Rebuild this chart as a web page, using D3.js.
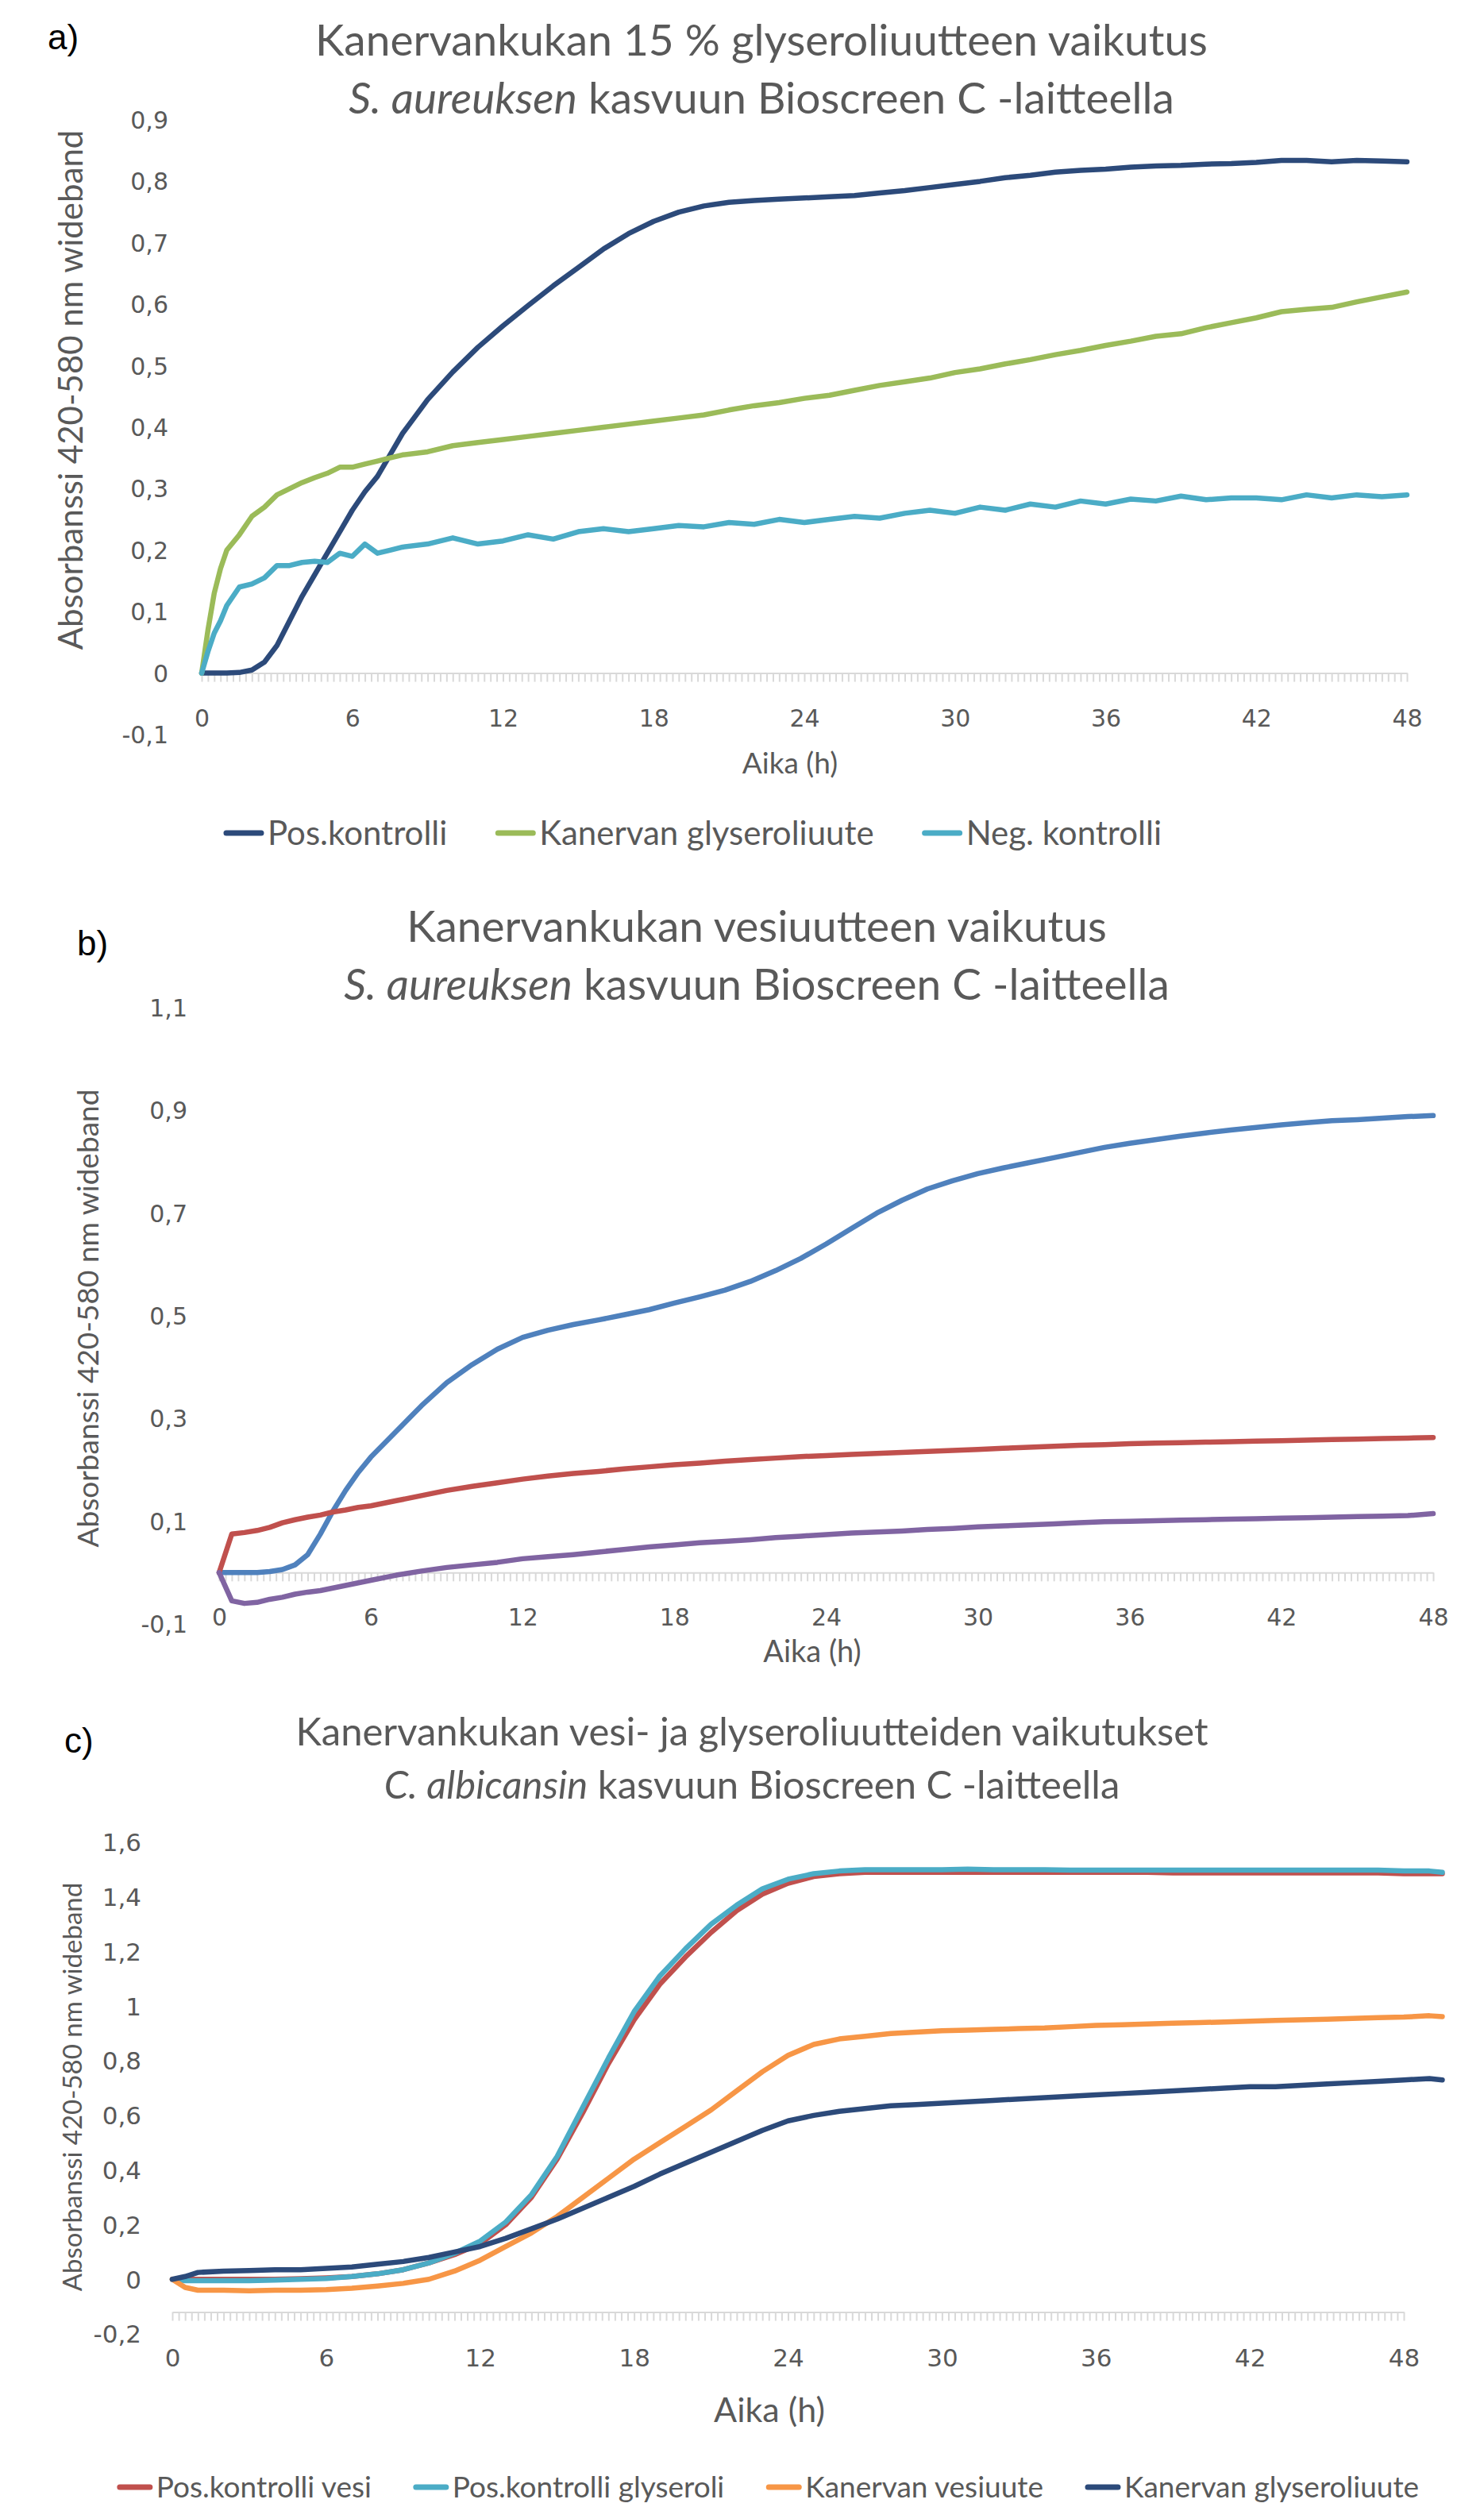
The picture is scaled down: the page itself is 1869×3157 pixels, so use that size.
<!DOCTYPE html>
<html>
<head>
<meta charset="utf-8">
<script src="https://cdn.jsdelivr.net/npm/d3@7"></script>
<style>
  body { margin: 0; background: #fff; }
  svg text { fill: #595959; font-family: Lato, "Open Sans", sans-serif; }
</style>
</head>
<body>
<svg id="chart" width="1869" height="3157"></svg>
<script>
// ---- data ----
const xTicks = [0, 6, 12, 18, 24, 30, 36, 42, 48];

// a) S. aureus, 15 % glycerol extract
const hoursA = [0, 0.25, 0.5, 0.75, 1, 1.5, 2, 2.5, 3, 3.5, 4, 4.5, 5, 5.5, 6, 6.5, 7, 7.5, 8,
  9, 10, 11, 12, 13, 14, 15, 16, 17, 18, 19, 20, 21, 22, 23, 24, 25, 26, 27, 28, 29, 30,
  31, 32, 33, 34, 35, 36, 37, 38, 39, 40, 41, 42, 43, 44, 45, 46, 47, 48];
const posA = [0, 0, 0, 0, 0, 0.001, 0.005, 0.018, 0.045, 0.085, 0.125, 0.16, 0.195, 0.23, 0.265, 0.295, 0.32, 0.355, 0.39,
  0.445, 0.49, 0.53, 0.565, 0.598, 0.63, 0.66, 0.69, 0.715, 0.735, 0.75, 0.76, 0.766, 0.769, 0.771, 0.773, 0.775, 0.777, 0.781, 0.785, 0.79, 0.795,
  0.8, 0.806, 0.81, 0.815, 0.818, 0.82, 0.823, 0.825, 0.826, 0.828, 0.829, 0.831, 0.834, 0.834, 0.832, 0.834, 0.833, 0.832];
const glyA = [0, 0.07, 0.13, 0.17, 0.2, 0.225, 0.255, 0.27, 0.29, 0.3, 0.31, 0.318, 0.325, 0.335, 0.335, 0.34, 0.345, 0.35, 0.355,
  0.36, 0.37, 0.375, 0.38, 0.385, 0.39, 0.395, 0.4, 0.405, 0.41, 0.415, 0.42, 0.428, 0.435, 0.44, 0.447, 0.452, 0.46, 0.468, 0.474, 0.48, 0.489,
  0.495, 0.503, 0.51, 0.518, 0.525, 0.533, 0.54, 0.548, 0.552, 0.562, 0.57, 0.578, 0.588, 0.592, 0.595, 0.604, 0.612, 0.62];
const negA = [0, 0.035, 0.065, 0.085, 0.11, 0.14, 0.145, 0.155, 0.175, 0.175, 0.18, 0.182, 0.18, 0.195, 0.19, 0.21, 0.195, 0.2, 0.205,
  0.21, 0.22, 0.21, 0.215, 0.225, 0.218, 0.23, 0.235, 0.23, 0.235, 0.24, 0.238, 0.245, 0.242, 0.25, 0.245, 0.25, 0.255, 0.252, 0.26, 0.265, 0.26,
  0.27, 0.265, 0.275, 0.27, 0.28, 0.275, 0.283, 0.28, 0.288, 0.282, 0.285, 0.285, 0.282, 0.29, 0.285, 0.29, 0.287, 0.29];

// b) S. aureus, water extract
const hoursB = [0, 0.5, 1, 1.5, 2, 2.5, 3, 3.5, 4, 4.5, 5, 5.5, 6, 7, 8, 9, 10, 11, 12, 13, 14, 15, 16, 17, 18,
  19, 20, 21, 22, 23, 24, 25, 26, 27, 28, 29, 30, 31, 32, 33, 34, 35, 36, 37, 38, 39, 40, 41, 42, 43, 44, 45, 46, 47, 48];
const blueB = [0, 0, 0, 0, 0.002, 0.006, 0.015, 0.035, 0.075, 0.12, 0.16, 0.195, 0.225, 0.275, 0.325, 0.37, 0.405, 0.435, 0.458, 0.472, 0.483, 0.492, 0.502, 0.512, 0.525,
  0.537, 0.55, 0.567, 0.588, 0.612, 0.64, 0.67, 0.7, 0.725, 0.747, 0.763, 0.777, 0.788, 0.798, 0.808, 0.818, 0.828, 0.836, 0.843, 0.85, 0.856, 0.862, 0.867, 0.872, 0.876, 0.88, 0.882, 0.885, 0.888, 0.89];
const redB = [0, 0.075, 0.078, 0.082, 0.088, 0.097, 0.103, 0.108, 0.112, 0.118, 0.122, 0.127, 0.13, 0.14, 0.15, 0.16, 0.168, 0.175, 0.182, 0.188, 0.193, 0.197, 0.202, 0.206, 0.21,
  0.213, 0.217, 0.22, 0.223, 0.226, 0.228, 0.23, 0.232, 0.234, 0.236, 0.238, 0.24, 0.242, 0.244, 0.246, 0.248, 0.249, 0.251, 0.252, 0.253, 0.254, 0.255, 0.256, 0.257, 0.258, 0.259, 0.26, 0.261, 0.262, 0.263];
const purpleB = [0, -0.055, -0.06, -0.058, -0.052, -0.048, -0.042, -0.038, -0.035, -0.03, -0.025, -0.02, -0.015, -0.005, 0.003, 0.01, 0.015, 0.02, 0.027, 0.031, 0.035, 0.04, 0.045, 0.05, 0.054,
  0.058, 0.061, 0.064, 0.068, 0.071, 0.074, 0.077, 0.079, 0.081, 0.084, 0.086, 0.089, 0.091, 0.093, 0.095, 0.097, 0.099, 0.1, 0.101, 0.102, 0.103, 0.104, 0.105, 0.106, 0.107, 0.108, 0.109, 0.11, 0.111, 0.115];

// c) C. albicans, water and glycerol extracts
const hoursC = [0, 0.5, 1, 2, 3, 4, 5, 6, 7, 8, 9, 10, 11, 12, 13, 14, 15, 16, 17, 18, 19, 20, 21, 22, 23, 24, 25,
  26, 27, 28, 29, 30, 31, 32, 33, 34, 35, 36, 37, 38, 39, 40, 41, 42, 43, 44, 45, 46, 47, 48, 49, 49.5];
const posVesiC = [0, 0, 0, 0, 0, 0, 0.002, 0.005, 0.01, 0.02, 0.035, 0.06, 0.09, 0.13, 0.2, 0.3, 0.44, 0.61, 0.79, 0.95, 1.08, 1.18, 1.27, 1.35, 1.41, 1.45, 1.475,
  1.485, 1.49, 1.49, 1.49, 1.49, 1.49, 1.49, 1.49, 1.49, 1.49, 1.49, 1.49, 1.49, 1.488, 1.488, 1.488, 1.488, 1.488, 1.488, 1.488, 1.488, 1.488, 1.485, 1.485, 1.485];
const posGlyC = [0, -0.005, -0.005, -0.005, -0.005, -0.003, 0, 0.003, 0.01, 0.02, 0.035, 0.06, 0.095, 0.14, 0.21, 0.31, 0.45, 0.63, 0.81, 0.98, 1.11, 1.21, 1.3, 1.37, 1.43, 1.465, 1.485,
  1.495, 1.5, 1.5, 1.5, 1.5, 1.502, 1.5, 1.5, 1.5, 1.498, 1.498, 1.498, 1.498, 1.498, 1.498, 1.498, 1.498, 1.498, 1.498, 1.498, 1.498, 1.498, 1.495, 1.495, 1.49];
const vesiC = [0, -0.03, -0.04, -0.04, -0.042, -0.04, -0.04, -0.038, -0.033, -0.025, -0.015, 0, 0.03, 0.07, 0.12, 0.17, 0.23, 0.3, 0.37, 0.44, 0.5, 0.56, 0.62, 0.69, 0.76, 0.82, 0.86,
  0.88, 0.89, 0.9, 0.905, 0.91, 0.912, 0.915, 0.918, 0.92, 0.925, 0.93, 0.932, 0.935, 0.938, 0.94, 0.942, 0.945, 0.948, 0.95, 0.952, 0.955, 0.958, 0.96, 0.965, 0.962];
const glyC = [0, 0.01, 0.025, 0.03, 0.032, 0.035, 0.035, 0.04, 0.045, 0.055, 0.065, 0.08, 0.1, 0.12, 0.15, 0.185, 0.22, 0.26, 0.3, 0.34, 0.385, 0.425, 0.465, 0.505, 0.545, 0.58, 0.6,
  0.615, 0.625, 0.635, 0.64, 0.645, 0.65, 0.655, 0.66, 0.665, 0.67, 0.675, 0.68, 0.685, 0.69, 0.695, 0.7, 0.705, 0.705, 0.71, 0.715, 0.72, 0.725, 0.73, 0.735, 0.73];

const yTicksA = [-0.1, 0, 0.1, 0.2, 0.3, 0.4, 0.5, 0.6, 0.7, 0.8, 0.9];
const yTicksB = [-0.1, 0.1, 0.3, 0.5, 0.7, 0.9, 1.1];
const yTicksC = [-0.2, 0, 0.2, 0.4, 0.6, 0.8, 1, 1.2, 1.4, 1.6];

const yTitle = "Absorbanssi 420-580 nm wideband";
const xTitle = "Aika (h)";

const svg = d3.select("#chart");
const comma = d => d === 0 ? "0" : String(+d.toFixed(1)).replace(".", ",");

function drawPanel(p) {
  const x = d3.scaleLinear().domain([0, 48]).range([p.left, p.right]);
  const y = d3.scaleLinear().domain([p.yLo, p.yHi]).range([p.yLoPx, p.yHiPx]);
  const g = svg.append("g");

  // category-style minor ticks along the horizontal axis
  g.append("g")
    .attr("transform", `translate(0,${y(p.axisAt)})`)
    .call(d3.axisBottom(x).tickValues(d3.range(0, 48.001, 0.25)).tickSize(11).tickSizeOuter(0).tickFormat(""))
    .call(s => s.selectAll("path,line").attr("stroke", "#d9d9d9").attr("stroke-width", 2));

  // hour labels
  g.append("g")
    .attr("transform", `translate(0,${p.xLabelY})`)
    .call(d3.axisBottom(x).tickValues(xTicks).tickSize(0).tickFormat(d3.format("d")))
    .call(s => {
      s.select(".domain").remove();
      s.selectAll("text").attr("y", 0).attr("dy", "0.35em")
        .style("font-family", "'DejaVu Sans', sans-serif").style("font-size", p.tickFont + "px").style("fill", "#595959");
    });

  // value labels
  g.append("g")
    .attr("transform", `translate(${p.yLabelX},0)`)
    .call(d3.axisLeft(y).tickValues(p.yTicks).tickSize(0).tickFormat(comma))
    .call(s => {
      s.select(".domain").remove();
      s.selectAll("text").attr("x", 0).attr("dy", "0.35em")
        .style("font-family", "'DejaVu Sans', sans-serif").style("font-size", p.tickFont + "px").style("fill", "#595959");
    });

  // series
  p.series.forEach(sr => {
    const line = d3.line().x((d, i) => x(p.hours[i])).y(d => y(d));
    g.append("path").datum(sr.values)
      .attr("d", line).attr("fill", "none").attr("stroke", sr.color)
      .attr("stroke-width", 6.5).attr("stroke-linejoin", "round").attr("stroke-linecap", "round");
  });

  // titles
  const t = g.append("text").attr("x", p.titleX).attr("text-anchor", "middle").style("font-size", p.titleFont + "px");
  t.append("tspan").attr("x", p.titleX).attr("y", p.titleY[0]).text(p.title[0]);
  const t2 = t.append("tspan").attr("x", p.titleX).attr("y", p.titleY[1]);
  p.title[1].forEach(part => t2.append("tspan").style("font-style", part[1] ? "italic" : "normal").text(part[0]));

  g.append("text").attr("x", p.tag[1]).attr("y", p.tag[2])
    .style("font-family", "'Liberation Sans', Arial, sans-serif").style("font-size", "44px").style("fill", "#000")
    .text(p.tag[0]);

  g.append("text").attr("x", p.xTitlePos[0]).attr("y", p.xTitlePos[1]).attr("dy", "0.35em")
    .attr("text-anchor", "middle").style("font-size", p.xTitleFont + "px").text(xTitle);

  g.append("text").attr("transform", `translate(${p.yTitlePos[0]},${p.yTitlePos[1]}) rotate(-90)`)
    .attr("dy", "0.35em").attr("text-anchor", "middle").style("font-size", p.yTitleFont + "px").text(yTitle);

  // legend
  if (p.legend) {
    const lg = g.append("g");
    let cx = 0;
    p.series.forEach(sr => {
      const it = lg.append("g").attr("transform", `translate(${cx},0)`);
      it.append("line").attr("x1", 4).attr("x2", p.legend.sw - 4).attr("y1", 0).attr("y2", 0)
        .attr("stroke", sr.color).attr("stroke-width", 7).attr("stroke-linecap", "round");
      const tx = it.append("text").attr("x", p.legend.sw + 4).attr("dy", "0.35em")
        .style("font-size", p.legend.font + "px").text(sr.name);
      cx += p.legend.sw + 4 + tx.node().getComputedTextLength() + p.legend.gap;
    });
    const w = cx - p.legend.gap;
    lg.attr("transform", `translate(${p.legend.cx - w / 2},${p.legend.y})`);
  }
}

drawPanel({
  hours: hoursA, left: 254, right: 1772, yLo: -0.1, yHi: 0.9, yLoPx: 925, yHiPx: 151, axisAt: 0,
  xLabelY: 904, yLabelX: 212, yTicks: yTicksA, tickFont: 30,
  series: [
    { name: "Pos.kontrolli", color: "#2c4a7a", values: posA },
    { name: "Kanervan glyseroliuute", color: "#9bbb59", values: glyA },
    { name: "Neg. kontrolli", color: "#4bacc6", values: negA }
  ],
  title: ["Kanervankukan 15 % glyseroliuutteen vaikutus", [["S. aureuksen", true], [" kasvuun Bioscreen C -laitteella", false]]],
  titleX: 959, titleY: [70, 143], titleFont: 55,
  tag: ["a)", 60, 62],
  xTitlePos: [995, 961], xTitleFont: 37,
  yTitlePos: [89, 491], yTitleFont: 42,
  legend: { cx: 872, y: 1049, sw: 52, gap: 60, font: 42 }
});

drawPanel({
  hours: hoursB, left: 276, right: 1805, yLo: -0.1, yHi: 1.1, yLoPx: 2045, yHiPx: 1269, axisAt: 0,
  xLabelY: 2036, yLabelX: 236, yTicks: yTicksB, tickFont: 30,
  series: [
    { name: "Pos.kontrolli", color: "#4f81bd", values: blueB },
    { name: "Kanervan vesiuute", color: "#c0504d", values: redB },
    { name: "Neg. kontrolli", color: "#8064a2", values: purpleB }
  ],
  title: ["Kanervankukan vesiuutteen vaikutus", [["S. aureuksen", true], [" kasvuun Bioscreen C -laitteella", false]]],
  titleX: 953, titleY: [1186, 1259], titleFont: 55,
  tag: ["b)", 97, 1203],
  xTitlePos: [1023, 2080], xTitleFont: 38,
  yTitlePos: [111, 1660], yTitleFont: 37,
  legend: null
});

drawPanel({
  hours: hoursC, left: 217, right: 1768, yLo: -0.2, yHi: 1.6, yLoPx: 2939, yHiPx: 2320, axisAt: -0.12,
  xLabelY: 2969, yLabelX: 178, yTicks: yTicksC, tickFont: 31,
  series: [
    { name: "Pos.kontrolli vesi", color: "#c0504d", values: posVesiC },
    { name: "Pos.kontrolli glyseroli", color: "#4bacc6", values: posGlyC },
    { name: "Kanervan vesiuute", color: "#f79646", values: vesiC },
    { name: "Kanervan glyseroliuute", color: "#2c4a7a", values: glyC }
  ],
  title: ["Kanervankukan vesi- ja glyseroliuutteiden vaikutukset", [["C. albicansin", true], ["  kasvuun Bioscreen C -laitteella", false]]],
  titleX: 947, titleY: [2198, 2265], titleFont: 49,
  tag: ["c)", 81, 2207],
  xTitlePos: [969, 3035], xTitleFont: 43,
  yTitlePos: [91, 2628], yTitleFont: 33,
  legend: { cx: 967, y: 3132, sw: 46, gap: 52, font: 37 }
});
</script>
</body>
</html>
